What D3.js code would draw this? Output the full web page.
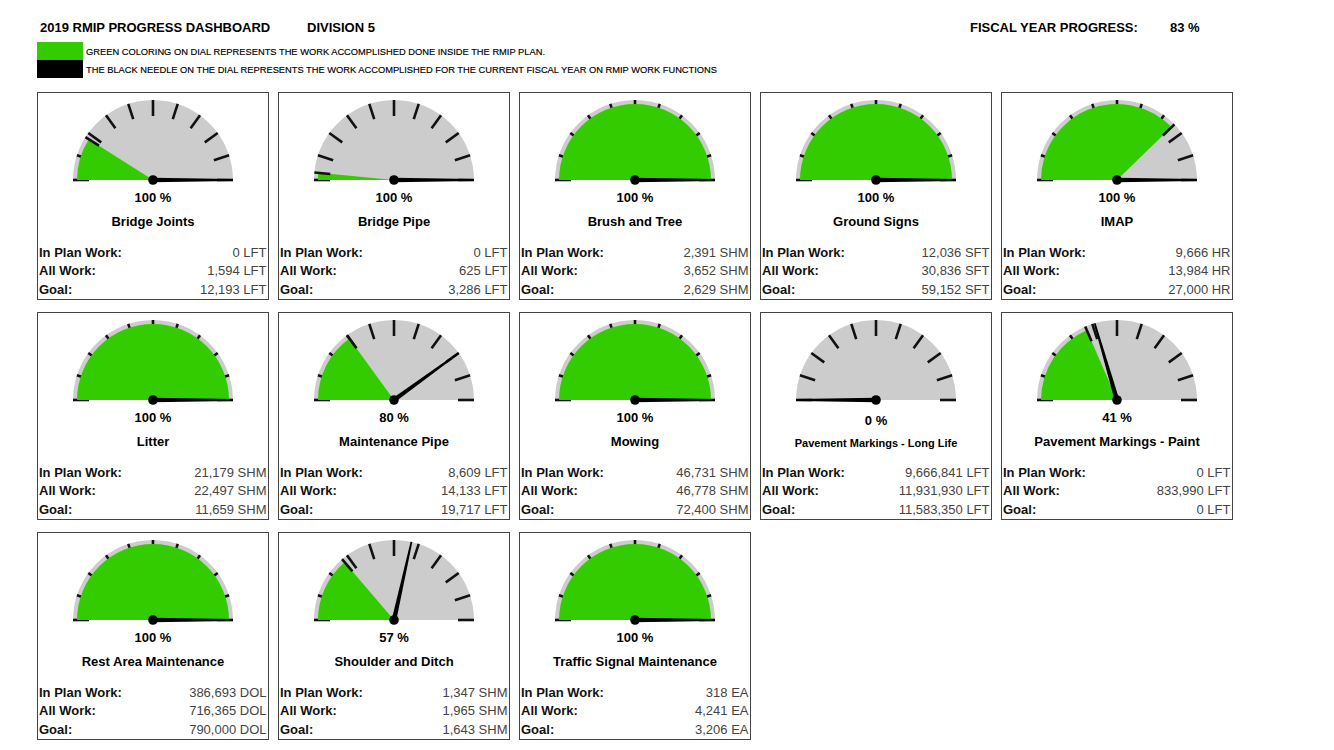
<!DOCTYPE html>
<html>
<head>
<meta charset="utf-8">
<script src="https://cdn.jsdelivr.net/npm/d3@7"></script>
<style>
  body { margin: 0; background: #fff; }
  text { font-family: "Liberation Sans", Arial, sans-serif; }
</style>
</head>
<body>
<div id="chart"></div>
<script>
const width = 1334;
const height = 750;

// dashboard values
const fiscalProgress = 83;
const tasks = [
    "Bridge Joints", "Bridge Pipe", "Brush and Tree", "Ground Signs", "IMAP",
    "Litter", "Maintenance Pipe", "Mowing", "Pavement Markings - Long Life", "Pavement Markings - Paint",
    "Rest Area Maintenance", "Shoulder and Ditch", "Traffic Signal Maintenance"
];
const units = ["LFT", "LFT", "SHM", "SFT", "HR", "SHM", "LFT", "SHM", "LFT", "LFT", "DOL", "SHM", "EA"];
const inPlanWork = [0, 0, 2391, 12036, 9666, 21179, 8609, 46731, 9666841, 0, 386693, 1347, 318];
const allWork = [1594, 625, 3652, 30836, 13984, 22497, 14133, 46778, 11931930, 833990, 716365, 1965, 4241];
const goals = [12193, 3286, 2629, 59152, 27000, 11659, 19717, 72400, 11583350, 0, 790000, 1643, 3206];
// needle = percent shown under each dial, green = share of dial painted green
const needlePct = [100, 100, 100, 100, 100, 100, 80, 100, 0, 41, 100, 57, 100];
const greenPct = [18, 3, 100, 100, 75.5, 100, 30, 100, 0, 37, 100, 27.5, 100];

const legendItems = [
    { color: "#33cc00", text: "GREEN COLORING ON DIAL REPRESENTS THE WORK ACCOMPLISHED DONE INSIDE THE RMIP PLAN." },
    { color: "#000000", text: "THE BLACK NEEDLE ON THE DIAL REPRESENTS THE WORK ACCOMPLISHED FOR THE CURRENT FISCAL YEAR ON RMIP WORK FUNCTIONS" }
];
const legendLengths = [459, 631];

const cols = 5;
const panelW = 231;
const panelH = 207;
const R = 80;
const fmt = d3.format(",");

const colX = d3.scaleLinear().domain([0, 1]).range([37, 37 + 241]);
const rowY = d3.scaleLinear().domain([0, 1]).range([92, 92 + 220]);
const angle = d3.scaleLinear().domain([0, 100]).range([-Math.PI / 2, Math.PI / 2]).clamp(true);

const svg = d3.select("#chart").append("svg")
    .attr("width", width)
    .attr("height", height);

// header
const header = (x, txt) => svg.append("text").attr("x", x).attr("y", 32)
    .style("font-size", "13px").style("font-weight", "bold")
    .text(txt);
header(40, "2019 RMIP PROGRESS DASHBOARD");
header(307, "DIVISION 5");
header(970, "FISCAL YEAR PROGRESS:");
header(1170, fiscalProgress + " %");

const legend = svg.selectAll(".legend")
    .data(legendItems)
    .join("g")
    .attr("class", "legend")
    .attr("transform", (d, i) => `translate(37, ${42 + i * 18})`);
legend.append("rect").attr("width", 46).attr("height", 18).attr("fill", d => d.color);
legend.append("text").attr("x", 49).attr("y", 12.5)
    .attr("textLength", (d, i) => legendLengths[i])
    .attr("lengthAdjust", "spacingAndGlyphs")
    .style("font-size", "8.5px")
    .attr("fill", "#000")
    .attr("stroke", "#000").attr("stroke-width", 0.15)
    .text(d => d.text);

// panels
const panels = svg.selectAll(".panel")
    .data(tasks.map((t, i) => ({
        name: t, unit: units[i], inPlan: inPlanWork[i], all: allWork[i], goal: goals[i],
        needle: needlePct[i], green: greenPct[i], i: i
    })))
    .join("g")
    .attr("class", "panel")
    .attr("transform", d => `translate(${colX(d.i % cols)}, ${rowY(Math.floor(d.i / cols))})`);

panels.append("rect")
    .attr("x", 0.5).attr("y", 0.5)
    .attr("width", panelW).attr("height", panelH)
    .attr("fill", "#fff").attr("stroke", "#444").attr("stroke-width", 1);

const gauge = panels.append("g").attr("transform", `translate(116, 88)`);

gauge.append("path")
    .attr("d", d3.arc()({ innerRadius: 0, outerRadius: R, startAngle: -Math.PI / 2, endAngle: Math.PI / 2 }))
    .attr("fill", "#cccccc");

const tickPos = a => [[0.8 * R * Math.sin(a), -0.8 * R * Math.cos(a)], [R * Math.sin(a), -R * Math.cos(a)]];

gauge.selectAll(".tick")
    .data(d3.range(0, 101, 10))
    .join("path")
    .attr("class", "tick")
    .attr("d", v => d3.line()(tickPos(angle(v))))
    .attr("stroke", "#111").attr("stroke-width", 2.6);

gauge.filter(d => d.green > 0).append("path")
    .attr("d", d => d3.arc()({ innerRadius: 0, outerRadius: R * 0.95, startAngle: -Math.PI / 2, endAngle: angle(d.green) }))
    .attr("fill", "#33cc00");

// tick at the edge of the green area
gauge.filter(d => d.green > 0 && d.green < 100).append("path")
    .attr("d", d => d3.line()(tickPos(angle(d.green))))
    .attr("stroke", "#111").attr("stroke-width", 2.6);

gauge.append("path")
    .attr("d", d => {
        const a = angle(d.needle);
        const ux = Math.sin(a), uy = -Math.cos(a);
        const px = -uy, py = ux;
        return d3.line()([
            [px * 2.3, py * 2.3],
            [ux * R + px * 0.9, uy * R + py * 0.9],
            [ux * R - px * 0.9, uy * R - py * 0.9],
            [-px * 2.3, -py * 2.3]
        ]) + "Z";
    })
    .attr("fill", "#000");

gauge.append("circle").attr("r", 4.8).attr("fill", "#000");

panels.append("text")
    .attr("x", 116).attr("y", d => d.name.length > 26 ? 113 : 109.5)
    .attr("text-anchor", "middle")
    .style("font-size", "13px").style("font-weight", "bold")
    .text(d => d.needle + " %");

panels.append("text")
    .attr("x", 116).attr("y", d => d.name.length > 26 ? 134.5 : 133.5)
    .attr("text-anchor", "middle")
    .style("font-size", d => d.name.length > 26 ? "11px" : "13px")
    .style("font-weight", "bold")
    .text(d => d.name);

const rows = ["In Plan Work:", "All Work:", "Goal:"];
const rowVal = [d => d.inPlan, d => d.all, d => d.goal];

rows.forEach((label, r) => {
    panels.append("text")
        .attr("x", 2).attr("y", 164.5 + r * 18.5)
        .style("font-size", "13px").style("font-weight", "bold").attr("fill", "#111")
        .text(label);
    panels.append("text")
        .attr("x", panelW - 1.5).attr("y", 164.5 + r * 18.5)
        .attr("text-anchor", "end")
        .style("font-size", "13px").attr("fill", "#444")
        .text(d => fmt(rowVal[r](d)) + " " + d.unit);
});
</script>
</body>
</html>
